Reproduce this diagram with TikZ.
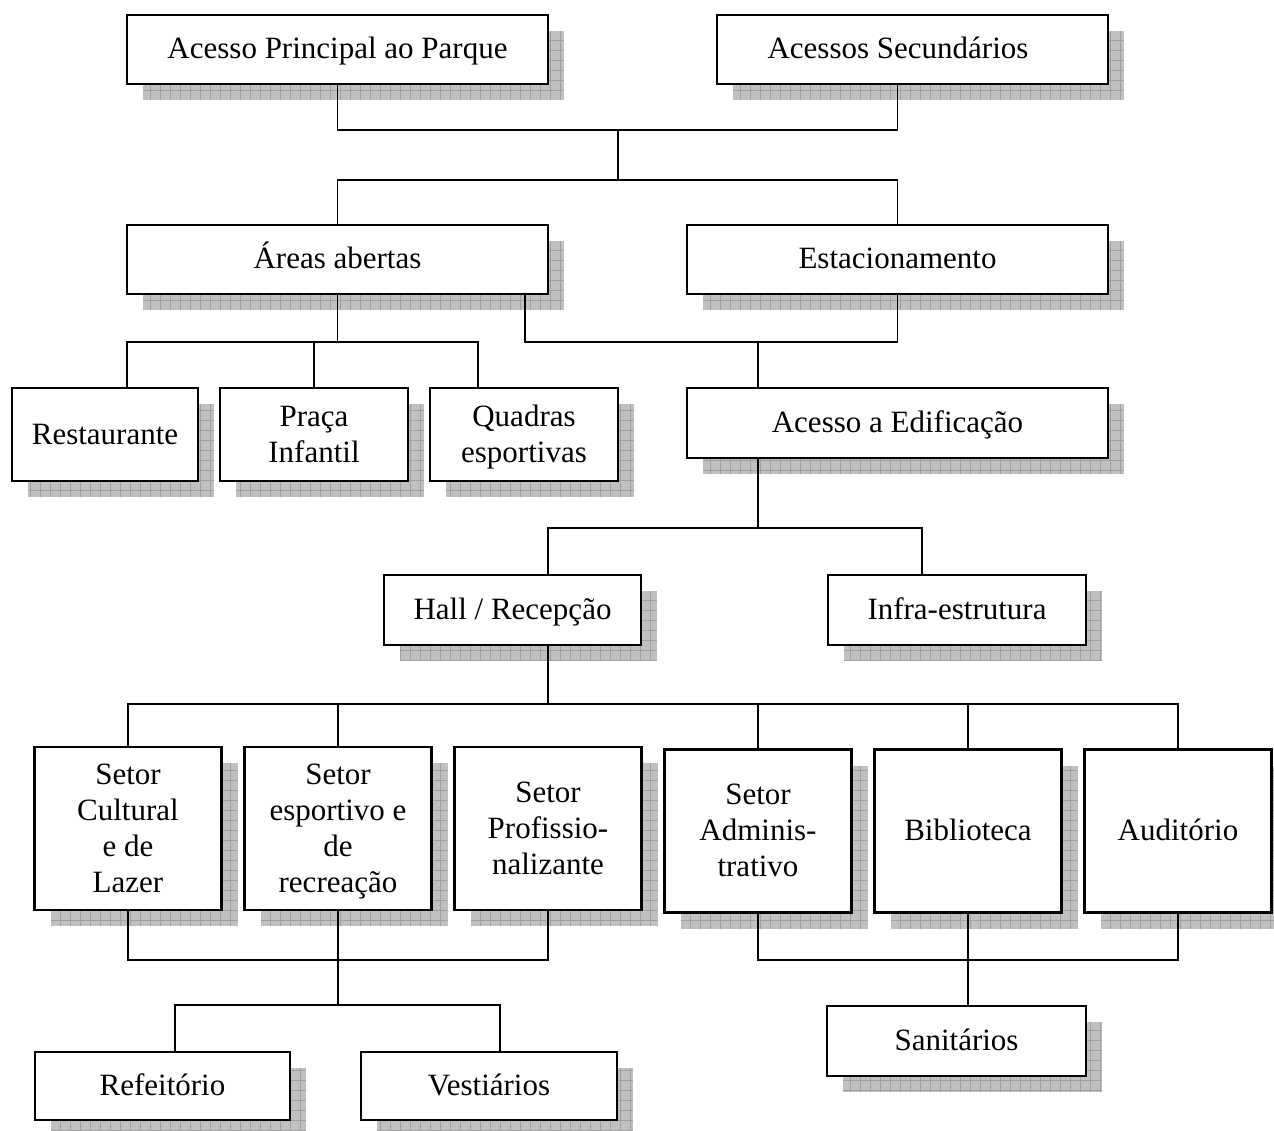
\documentclass[tikz,border=0pt]{standalone}
\usepackage{fontspec}
\setmainfont{Liberation Serif}
\usetikzlibrary{calc}
\definecolor{shadowfill}{RGB}{192,192,192}
\definecolor{shadowline}{RGB}{160,160,160}
\newcommand\mystrut{\rule[-8pt]{0pt}{35pt}}
\tikzset{
  mybx/.style={draw=black, line width=2.2pt, fill=white, align=center, inner sep=2pt,
    font=\fontsize{31}{36}\selectfont},
  conn/.style={draw=black, line width=1.7pt},
  shgrid/.style={draw=shadowline, line width=0.7pt, step=10pt}
}
\newcommand\mybox[6]{%
  \fill[shadowfill] ({#2-#4/2+16},{#3-#5/2+16}) rectangle ({#2+#4/2+16},{#3+#5/2+16});
  \begin{scope}
    \clip ({#2-#4/2+16},{#3-#5/2+16}) rectangle ({#2+#4/2+16},{#3+#5/2+16});
    \draw[shgrid] ({#2-#4/2+16},{#3-#5/2+16}) grid ({#2+#4/2+16},{#3+#5/2+16});
  \end{scope}
  \node[mybx, minimum width=#4, minimum height=#5] (#1) at (#2,#3) {\mystrut #6\mystrut};
}
\begin{document}
\begin{tikzpicture}[x=1pt,y=-1pt]
\clip (0,0) rectangle (1274,1131);
\fill[white] (0,0) rectangle (1274,1131);
% row A
\mybox{a1}{337.5}{49.5}{421}{69}{Acesso Principal ao Parque}
\mybox{a2}{912.5}{49.5}{391}{69}{Acessos Secundários\hspace*{29pt}}
% row B
\mybox{b1}{337.5}{259.5}{421}{69}{Áreas abertas}
\mybox{b2}{897.5}{259.5}{421}{69}{Estacionamento}
% row C
\mybox{c1}{105}{434.5}{186}{93}{Restaurante}
\mybox{c2}{314}{434.5}{188}{93}{Praça\\Infantil}
\mybox{c3}{524}{434.5}{188}{93}{Quadras\\esportivas}
\mybox{c4}{897.5}{423}{421}{70}{Acesso a Edificação}
% row D
\mybox{d1}{512.5}{610}{257}{70}{Hall / Recepção}
\mybox{d2}{957}{610}{258}{70}{Infra-estrutura}
% row E
\mybox{e1}{128}{828.5}{187}{163}{Setor\\Cultural\\e de\\Lazer}
\mybox{e2}{338}{828.5}{187}{163}{Setor\\esportivo e\\de\\recreação}
\mybox{e3}{548}{828.5}{187}{163}{Setor\\Profissio-\\nalizante}
\mybox{e4}{758}{831}{187}{163}{Setor\\Adminis-\\trativo}
\mybox{e5}{968}{831}{187}{163}{Biblioteca}
\mybox{e6}{1178}{831}{187}{163}{Auditório}
% row F
\mybox{f1}{162.5}{1086}{255}{68}{Refeitório}
\mybox{f2}{489}{1086}{256}{68}{Vestiários}
\mybox{g}{956.5}{1041}{259}{70}{Sanitários}
% junctions
\coordinate (j1) at (618,130);
\coordinate (j2) at (618,180);
\coordinate (j3) at (337.5,342);
\coordinate (j4) at (758,342);
\coordinate (j5) at (758,528);
\coordinate (h1) at (548,528);
\coordinate (h2) at (922,528);
\coordinate (j6) at (548,704);
\coordinate (j7) at (338,960);
\coordinate (j8) at (338,1005);
\coordinate (k1) at (175,1005);
\coordinate (k2) at (500,1005);
\coordinate (j9) at (968,960);
% connectors
\draw[conn] (a1.south) |- (j1) -| ($(a2.south)+(-15,0)$);
\draw[conn] (j1) -- (j2);
\draw[conn] (b1.north) |- (j2) -| (b2.north);
\draw[conn] (b1.south) -- (j3);
\draw[conn] ($(c1.north)+(22,0)$) |- (j3) -| ($(c3.north)+(-46,0)$);
\draw[conn] (c2.north) -- (c2.north |- j3);
\draw[conn] ($(b1.south east)+(-24,0)$) |- (j4) -| (b2.south);
\draw[conn] (j4) -- (j4 |- c4.north);
\draw[conn] (j5 |- c4.south) -- (j5);
\draw[conn] (h1 |- d1.north) -- (h1) -- (h2) -- (h2 |- d2.north);
\draw[conn] (j6 |- d1.south) -- (j6);
\draw[conn] (e1.north) |- (j6) -| (e6.north);
\draw[conn] (e2.north) -- (e2.north |- j6);
\draw[conn] (e4.north) -- (e4.north |- j6);
\draw[conn] (e5.north) -- (e5.north |- j6);
\draw[conn] (e1.south) |- (j7) -| (e3.south);
\draw[conn] (e2.south) -- (j7) -- (j8);
\draw[conn] (k1 |- f1.north) -- (k1) -- (k2) -- (k2 |- f2.north);
\draw[conn] (e4.south) |- (j9) -| (e6.south);
\draw[conn] (e5.south) -- (j9) -- (j9 |- g.north);
\end{tikzpicture}
\end{document}
